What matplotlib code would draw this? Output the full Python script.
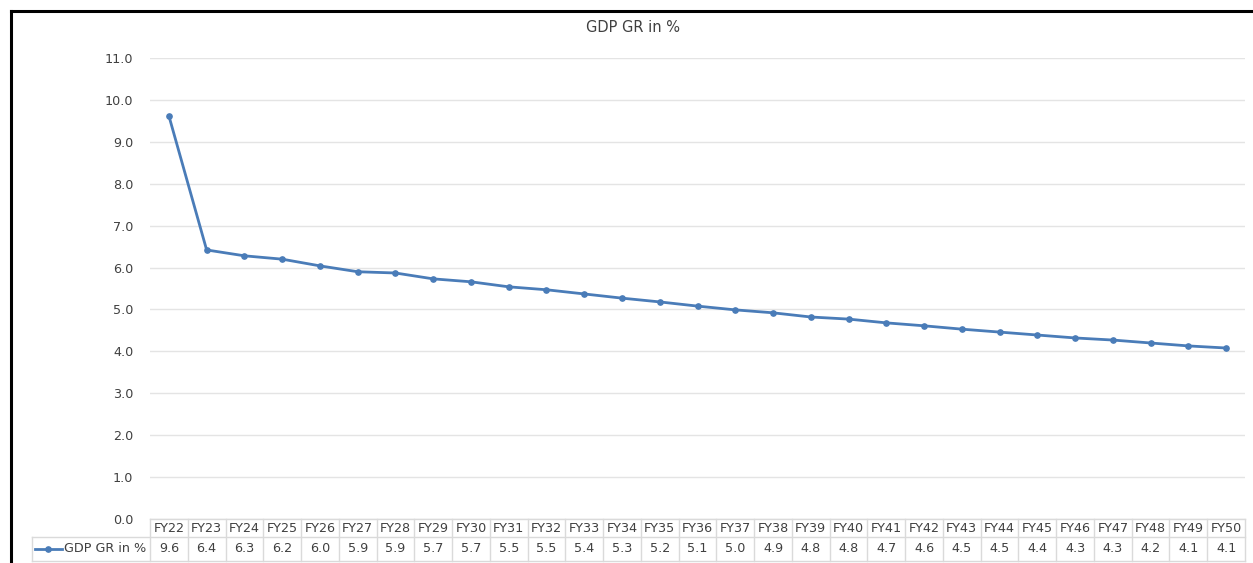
import matplotlib
matplotlib.use("Agg")
import matplotlib.pyplot as plt
from matplotlib.lines import Line2D
from matplotlib.transforms import blended_transform_factory

# ---- data ----
years = ["FY22", "FY23", "FY24", "FY25", "FY26", "FY27", "FY28", "FY29", "FY30", "FY31",
         "FY32", "FY33", "FY34", "FY35", "FY36", "FY37", "FY38", "FY39", "FY40", "FY41",
         "FY42", "FY43", "FY44", "FY45", "FY46", "FY47", "FY48", "FY49", "FY50"]
gdp_gr = [9.62, 6.42, 6.28, 6.20, 6.04, 5.90, 5.87, 5.73, 5.66, 5.54,
          5.47, 5.37, 5.27, 5.18, 5.08, 4.99, 4.92, 4.82, 4.77, 4.68,
          4.61, 4.53, 4.46, 4.39, 4.32, 4.27, 4.20, 4.13, 4.08]
y_ticks = [0.0, 1.0, 2.0, 3.0, 4.0, 5.0, 6.0, 7.0, 8.0, 9.0, 10.0, 11.0]
series_name = "GDP GR in %"
chart_title = "GDP GR in %"

W, H = 1253, 563
LINE_COLOR = "#4A7CB8"
GRID = "#E4E4E4"
TABLE_LINE = "#DADADA"
TEXT = "#404040"
FS = 9.2

fig = plt.figure(figsize=(W / 100, H / 100), dpi=100)
fig.patch.set_facecolor("white")

def fx(px):
    return px / W

def fy(py):
    return 1 - py / H

ax_left, ax_right, ax_top, ax_bottom = 150, 1245, 58, 519
ax = fig.add_axes([fx(ax_left), fy(ax_bottom), fx(ax_right - ax_left), (ax_bottom - ax_top) / H])

x = list(range(len(years)))
ax.plot(x, gdp_gr, color=LINE_COLOR, lw=2.0, marker="o", ms=3.8,
        markerfacecolor=LINE_COLOR, markeredgecolor=LINE_COLOR, zorder=3)

ax.set_xlim(-0.5, len(years) - 0.5)
ax.set_ylim(0, 11)
ax.set_yticks(y_ticks)
ax.set_yticklabels([f"{v:.1f}" for v in y_ticks], fontsize=FS, color=TEXT)
ax.tick_params(axis="y", length=0, pad=12)
ax.set_xticks([])
ax.grid(axis="y", color=GRID, lw=1.0)
ax.set_axisbelow(True)
for s in ax.spines.values():
    s.set_visible(False)

fig.text(fx(633), fy(27), chart_title, ha="center", va="center", fontsize=10.5, color=TEXT)

# ---- data table ----
tr = blended_transform_factory(ax.transData, fig.transFigure)
row_top, row_mid, row_bot = 519, 537, 561
legend_left = 32
edges = [i - 0.5 for i in range(len(years) + 1)]

ax.add_line(Line2D([edges[0], edges[-1]], [fy(row_top)] * 2, transform=tr, color=TABLE_LINE, lw=1, clip_on=False))
fig.add_artist(Line2D([fx(legend_left), fx(ax_right)], [fy(row_mid)] * 2, color=TABLE_LINE, lw=1))
fig.add_artist(Line2D([fx(legend_left), fx(ax_right)], [fy(row_bot)] * 2, color=TABLE_LINE, lw=1))
fig.add_artist(Line2D([fx(legend_left)] * 2, [fy(row_mid), fy(row_bot)], color=TABLE_LINE, lw=1))
for e in edges:
    ax.add_line(Line2D([e, e], [fy(row_top), fy(row_bot)], transform=tr, color=TABLE_LINE, lw=1, clip_on=False))

for i, (yr, v) in enumerate(zip(years, gdp_gr)):
    ax.text(i, fy((row_top + row_mid) / 2 + 1), yr, transform=tr, ha="center", va="center",
            fontsize=FS, color=TEXT, clip_on=False)
    ax.text(i, fy((row_mid + row_bot) / 2), f"{v:.1f}", transform=tr, ha="center", va="center",
            fontsize=FS, color=TEXT, clip_on=False)

# legend key in table
ly = fy((row_mid + row_bot) / 2)
fig.add_artist(Line2D([fx(35), fx(62)], [ly, ly], color=LINE_COLOR, lw=2.0))
fig.add_artist(Line2D([fx(48.5)], [ly], color=LINE_COLOR, marker="o", ms=3.8, lw=0))
fig.text(fx(64), ly, series_name, ha="left", va="center", fontsize=FS, color=TEXT)

# outer chart border (left and top)
fig.add_artist(Line2D([fx(10.5), fx(W)], [fy(10.5)] * 2, color="black", lw=2.2))
fig.add_artist(Line2D([fx(10.5)] * 2, [fy(10.5), 0], color="black", lw=2.2))

fig.savefig("out.png", dpi=100, facecolor="white")
